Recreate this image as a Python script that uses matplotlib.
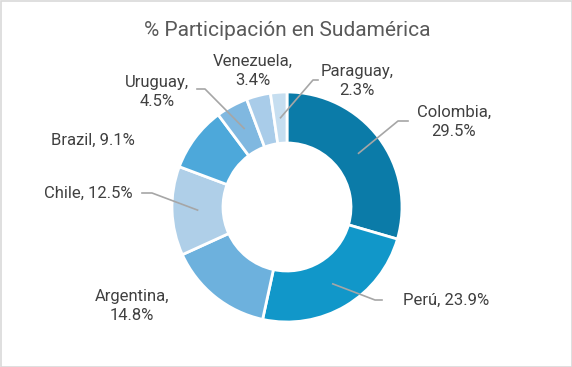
import numpy as np
import matplotlib.pyplot as plt
from matplotlib.patches import Rectangle

countries = ["Colombia", "Perú", "Argentina", "Chile", "Brazil", "Uruguay", "Venezuela", "Paraguay"]
shares = [29.5, 23.9, 14.8, 12.5, 9.1, 4.5, 3.4, 2.3]
colors = ["#0b7ba8", "#1197c9", "#6db1dd", "#afcfe8", "#4da8da", "#80b8e0", "#a9cce9", "#c6def0"]

# label layout (pixel coords, y from top): text centre, two lines?, leader elbow or None
label_pos = [(454, 122, True, (398, 121), (408, 121)),
             (446, 300, False, (375, 300), (382, 300)),
             (132, 306, True, None, None),
             (88, 193, False, (152, 193), (142, 193)),
             (93, 140, False, None, None),
             (157, 92, True, (205, 89), (197, 89)),
             (253, 71, True, None, None),
             (357, 81, True, (313, 80), (318, 80))]

W, H = 572, 367
fig = plt.figure(figsize=(W / 100, H / 100), dpi=100)
ax = fig.add_axes([0, 0, 1, 1])

ax.add_patch(Rectangle((0.5, 0.5), W - 1, H - 1, fill=False, ec="#d9d9d9", lw=1.2))

cx, cy, R, r_in = 287, H - 207, 115, 64
wedges, _ = ax.pie(shares, colors=colors, startangle=90, counterclock=False,
                   center=(cx, cy), radius=R, frame=True,
                   wedgeprops=dict(width=R - r_in, edgecolor="white", linewidth=2))
ax.set_xlim(0, W)
ax.set_ylim(0, H)
ax.set_aspect("equal")
ax.axis("off")

font = "Roboto"
ax.text(287, H - 31, "% Participación en Sudamérica", ha="center", va="center",
        fontsize=15, color="#595959", family=font)

rm = (R + r_in) / 2
for w, name, val, (tx, ty, two, elbow, end) in zip(wedges, countries, shares, label_pos):
    txt = f"{name},\n{val}%" if two else f"{name}, {val}%"
    ax.text(tx, H - ty, txt, ha="center", va="center", fontsize=12, color="#404040",
            family=font, linespacing=1.3)
    if elbow is not None:
        a = np.deg2rad((w.theta1 + w.theta2) / 2)
        sx, sy = cx + rm * np.cos(a), cy + rm * np.sin(a)
        ax.plot([sx, elbow[0], end[0]], [sy, H - elbow[1], H - end[1]], color="#a6a6a6", lw=1.2)

fig.savefig("out.png", dpi=100)
